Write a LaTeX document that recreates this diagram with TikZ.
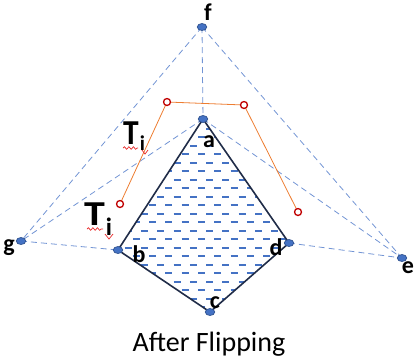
\documentclass[tikz,border=0pt]{standalone}
\usepackage{fontspec}
\setmainfont{Carlito}
\usetikzlibrary{shapes.geometric,decorations.pathmorphing}
\definecolor{vtxfill}{RGB}{68,114,196}
\definecolor{vtxedge}{RGB}{47,82,143}
\definecolor{linkblue}{RGB}{114,148,212}
\definecolor{hullnavy}{RGB}{32,44,72}
\definecolor{hatchblue}{RGB}{68,114,196}
\definecolor{dualorange}{RGB}{237,125,49}
\definecolor{sitered}{RGB}{192,0,0}
\definecolor{spellred}{RGB}{232,40,40}

\begin{document}
\begin{tikzpicture}[x=1pt,y=-1pt,
  vertex/.style={ellipse,draw=vtxedge,fill=vtxfill,line width=0.7pt,
    inner sep=0pt,minimum width=9.5pt,minimum height=7pt},
  vlabel/.style={anchor=base,inner sep=0pt,font=\fontsize{24}{24}\selectfont\bfseries},
  tlabel/.style={anchor=base west,inner sep=0pt,font=\bfseries},
  link/.style={linkblue,dash pattern=on 6pt off 4pt,line width=0.8pt},
  hull/.style={hullnavy,line width=1.6pt,line join=round},
  dual/.style={dualorange,line width=0.8pt},
  site/.style={circle,draw=sitered,fill=white,line width=1.3pt,
    inner sep=0pt,minimum size=7pt},
  squiggle/.style={spellred,line width=0.7pt,decorate,
    decoration={snake,amplitude=1.3pt,segment length=4.5pt}}]
  % canvas in pixel units, y pointing down
  \useasboundingbox (0,0) rectangle (417,360);

  % triangulation vertices
  \coordinate (f) at (202,27);
  \coordinate (a) at (203,119);
  \coordinate (g) at (21,241);
  \coordinate (b) at (118,250);
  \coordinate (c) at (210,312);
  \coordinate (d) at (289,243);
  \coordinate (e) at (402,258);
  % path of the dual sites
  \coordinate (o1) at (120,204);
  \coordinate (o2) at (167,102);
  \coordinate (o3) at (244,105);
  \coordinate (o4) at (298,212);

  % hatched quadrilateral a-b-c-d
  \begin{scope}
    \clip (a) -- (b) -- (c) -- (d) -- cycle;
    \foreach \k in {0,...,24} {
      \pgfmathsetmacro\xs{mod(\k,2)==1 ? 100.2 : 92}
      \draw[hatchblue,line width=1.9pt,dash pattern=on 7pt off 9.3pt]
        (\xs,111.8+8.5*\k) -- (320,111.8+8.5*\k);
    }
  \end{scope}

  \draw[link] (f) -- (g);
  \draw[link] (f) -- (a);
  \draw[link] (f) -- (e);
  \draw[link] (a) -- (g);
  \draw[link] (a) -- (e);
  \draw[link] (g) -- (b);
  \draw[link] (d) -- (e);

  \draw[hull] (a) -- (b) -- (c) -- (d) -- cycle;
  \draw[dual] (o1) -- (o2) -- (o3) -- (o4);

  \foreach \v in {f,a,g,b,c,d,e}
    \node[vertex] (v\v) at (\v) {};
  \foreach \s in {1,...,4}
    \node[site] (s\s) at (o\s) {};

  \node[vlabel] (lf) at (208,20) {f};
  \node[vlabel] (la) at (209,147) {a};
  \node[vlabel] (lb) at (139,262) {b};
  \node[vlabel] (lc) at (215,308) {c};
  \node[vlabel] (ld) at (276,255) {d};
  \node[vlabel] (le) at (408,273) {e};
  \node[vlabel] (lg) at (9,251) {g};

  % the two T_i marks, with their wavy underlines
  \node[tlabel] (t1) at (123,144) {\fontsize{35}{35}\selectfont
    \scalebox{0.9}[1]{T}\kern1pt\raisebox{-6pt}{\fontsize{21}{21}\selectfont i}};
  \node[tlabel] (t2) at (84,225) {\fontsize{35}{35}\selectfont
    \scalebox{1.2}[1]{T}\kern1pt\raisebox{-10pt}{\fontsize{25}{25}\selectfont i}};
  \draw[squiggle] ([yshift=-4pt]t1.base west) -- ++(15,0);
  \draw[spellred,line width=0.7pt] ([xshift=19pt,yshift=-6pt]t1.base west)
    -- ++(3,4) -- ++(3,-4);
  \draw[squiggle] ([xshift=3pt,yshift=-4pt]t2.base west) -- ++(16,0);
  \draw[spellred,line width=0.7pt] ([xshift=21pt,yshift=-9pt]t2.base west)
    -- ++(4,5) -- ++(4,-5);

  \node[anchor=base,inner sep=0pt,font=\fontsize{28}{28}\selectfont] (cap)
    at (209,351) {After Flipping};
\end{tikzpicture}
\end{document}
